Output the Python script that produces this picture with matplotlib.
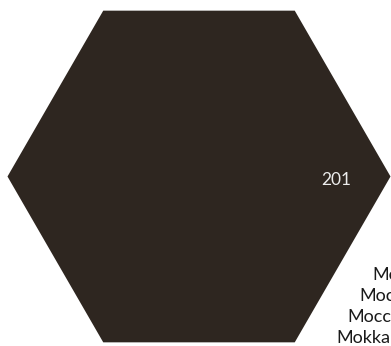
import numpy as np
import matplotlib
matplotlib.use("Agg")
import matplotlib.pyplot as plt
from matplotlib.patches import RegularPolygon

# data
values = [201]
value_labels = ["201"]
names = ["Mo", "Moc", "Mocc", "Mokka"]

W, H = 391, 346
fig = plt.figure(figsize=(W / 100, H / 100), dpi=100)
ax = fig.add_axes([0, 0, 1, 1])
ax.set_xlim(0, W)
ax.set_ylim(H, 0)
ax.axis("off")

hex_color = "#2e2620"
center = (199, 176.5)
radius = 191.5
ax.add_patch(RegularPolygon(center, numVertices=6, radius=radius,
                            orientation=np.pi / 6, facecolor=hex_color,
                            edgecolor="none"))

font = "Lato"
for v, lab in zip(values, value_labels):
    ax.text(336.5, 185, lab, ha="center", va="baseline", color="#ececec",
            fontsize=12.5, family=font)

name_x = [372, 359, 347, 336]
name_y = [280, 301, 322, 343]
for nm, x, y in zip(names, name_x, name_y):
    ax.text(x, y, nm, ha="left", va="baseline", color="#1a1a1a",
            fontsize=13, family=font)

fig.savefig("out.png", dpi=100)
